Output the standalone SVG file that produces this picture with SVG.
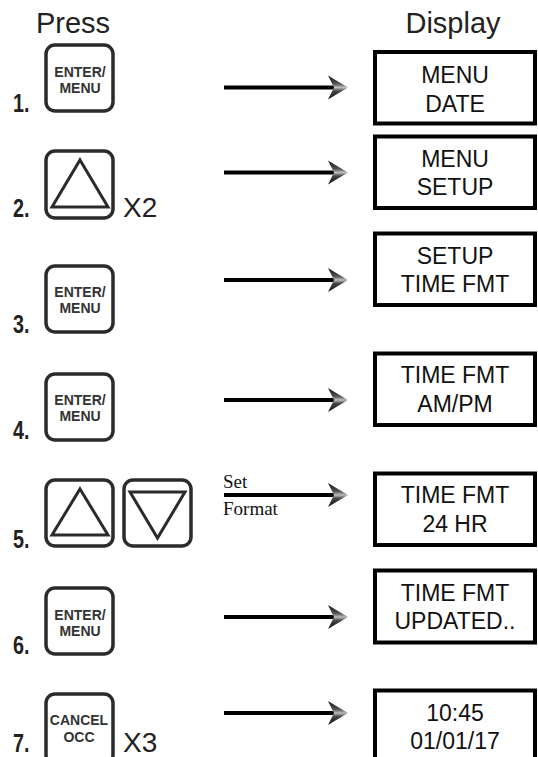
<svg xmlns="http://www.w3.org/2000/svg" width="538" height="757" viewBox="0 0 538 757">
<style>
  .hdr { font-family: "Liberation Sans", Arial, sans-serif; font-size: 29px; fill: #222; text-anchor: middle; }
  .num { font-family: "Liberation Sans", Arial, sans-serif; font-size: 26px; font-weight: bold; fill: #222; }
  .btn { fill: #fff; stroke: #2b2b2b; stroke-width: 3.5; }
  .tri { fill: none; stroke: #2b2b2b; stroke-width: 3; stroke-linejoin: miter; }
  .key { font-family: "Liberation Sans", Arial, sans-serif; font-size: 14px; font-weight: bold; fill: #333; text-anchor: middle; }
  .mult { font-family: "Liberation Sans", Arial, sans-serif; font-size: 28px; fill: #222; }
  .box { fill: #fff; stroke: #000; stroke-width: 4; }
  .disp { font-family: "Liberation Sans", Arial, sans-serif; font-size: 23px; fill: #111; text-anchor: middle; }
  .lbl { font-family: "Liberation Serif", "Times New Roman", serif; font-size: 19px; fill: #111; }
  .conn { stroke: #000; stroke-width: 4; fill: none; marker-end: url(#dart); }
</style>
<defs>
  <linearGradient id="dartGrad" x1="0" y1="0" x2="0" y2="1">
    <stop offset="0" stop-color="#111"/>
    <stop offset="0.35" stop-color="#555"/>
    <stop offset="0.5" stop-color="#bdbdbd"/>
    <stop offset="0.65" stop-color="#444"/>
    <stop offset="1" stop-color="#111"/>
  </linearGradient>
  <marker id="dart" markerUnits="userSpaceOnUse" markerWidth="22" markerHeight="26" refX="6" refY="12" orient="auto" viewBox="0 0 22 24" overflow="visible">
    <path d="M0,0 Q10,6 20,12 Q10,18 0,24 L6,12 Z" fill="url(#dartGrad)"/>
  </marker>
</defs>

<text class="hdr" x="73" y="33">Press</text>
<text class="hdr" x="453" y="33">Display</text>

<g id="step1">
  <text class="num" transform="translate(13,112) scale(0.76,1)">1.</text>
  <rect class="btn" x="46" y="45" width="67" height="66" rx="9"/>
  <text class="key" x="80" y="77">ENTER/</text>
  <text class="key" x="80" y="93">MENU</text>
</g>
<g id="step2">
  <text class="num" transform="translate(13,217) scale(0.76,1)">2.</text>
  <rect class="btn" x="46" y="151" width="67" height="67" rx="9"/>
  <polygon class="tri" points="80,160 108,207 52,207"/>
  <text class="mult" x="123" y="217">X2</text>
</g>
<g id="step3">
  <text class="num" transform="translate(13,333) scale(0.76,1)">3.</text>
  <rect class="btn" x="46" y="266" width="67" height="66" rx="9"/>
  <text class="key" x="80" y="297">ENTER/</text>
  <text class="key" x="80" y="313">MENU</text>
</g>
<g id="step4">
  <text class="num" transform="translate(13,439) scale(0.76,1)">4.</text>
  <rect class="btn" x="46" y="374" width="67" height="66" rx="9"/>
  <text class="key" x="80" y="405">ENTER/</text>
  <text class="key" x="80" y="421">MENU</text>
</g>
<g id="step5">
  <text class="num" transform="translate(13,548) scale(0.76,1)">5.</text>
  <rect class="btn" x="46" y="480" width="67" height="66" rx="9"/>
  <polygon class="tri" points="80,489 108,535 52,535"/>
  <rect class="btn" x="124" y="480" width="67" height="66" rx="9"/>
  <polygon class="tri" points="130,492 185,492 157.5,538"/>
</g>
<g id="step6">
  <text class="num" transform="translate(13,654) scale(0.76,1)">6.</text>
  <rect class="btn" x="46" y="588" width="67" height="66" rx="9"/>
  <text class="key" x="80" y="620">ENTER/</text>
  <text class="key" x="80" y="636">MENU</text>
</g>
<g id="step7">
  <text class="num" transform="translate(13,752) scale(0.76,1)">7.</text>
  <rect class="btn" x="46" y="694" width="67" height="70" rx="9"/>
  <text class="key" x="79" y="725">CANCEL</text>
  <text class="key" x="79" y="742">OCC</text>
  <text class="mult" x="123" y="752">X3</text>
</g>

<g id="display1">
  <rect class="box" x="375" y="52" width="160" height="71.5"/>
  <text class="disp" x="455" y="83">MENU</text>
  <text class="disp" x="455" y="112">DATE</text>
</g>
<g id="display2">
  <rect class="box" x="375" y="136.5" width="160" height="71.5"/>
  <text class="disp" x="455" y="166.5">MENU</text>
  <text class="disp" x="455" y="194.5">SETUP</text>
</g>
<g id="display3">
  <rect class="box" x="375" y="233.5" width="160" height="71.5"/>
  <text class="disp" x="455" y="263.5">SETUP</text>
  <text class="disp" x="455" y="291.5">TIME FMT</text>
</g>
<g id="display4">
  <rect class="box" x="375" y="353.5" width="160" height="71.5"/>
  <text class="disp" x="455" y="383">TIME FMT</text>
  <text class="disp" x="455" y="411.5">AM/PM</text>
</g>
<g id="display5">
  <rect class="box" x="375" y="473.5" width="160" height="71.5"/>
  <text class="disp" x="455" y="503">TIME FMT</text>
  <text class="disp" x="455" y="532">24 HR</text>
</g>
<g id="display6">
  <rect class="box" x="375" y="570.5" width="160" height="72"/>
  <text class="disp" x="455" y="600.5">TIME FMT</text>
  <text class="disp" x="455" y="628.5">UPDATED..</text>
</g>
<g id="display7">
  <rect class="box" x="375" y="690.5" width="160" height="72"/>
  <text class="disp" x="455" y="721">10:45</text>
  <text class="disp" x="455" y="749">01/01/17</text>
</g>

<g id="connectors">
  <line class="conn" x1="224" y1="87.5" x2="334" y2="87.5"/>
  <line class="conn" x1="224" y1="172.5" x2="334" y2="172.5"/>
  <line class="conn" x1="224" y1="280" x2="334" y2="280"/>
  <line class="conn" x1="224" y1="400" x2="334" y2="400"/>
  <line class="conn" x1="224" y1="495" x2="334" y2="495"/>
  <line class="conn" x1="224" y1="617" x2="334" y2="617"/>
  <line class="conn" x1="224" y1="713" x2="334" y2="713"/>
</g>
<text class="lbl" x="223" y="488">Set</text>
<text class="lbl" x="223" y="515">Format</text>
</svg>
